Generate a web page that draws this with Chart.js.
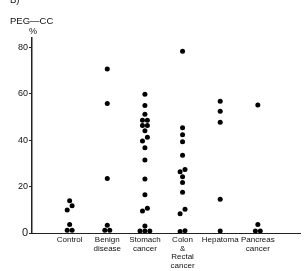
<!DOCTYPE html>
<html>
<head>
<meta charset="utf-8">
<script src="https://cdn.jsdelivr.net/npm/chart.js@4.4.1/dist/chart.umd.min.js"></script>
<style>
  html, body { margin: 0; padding: 0; background: #fff; }
  #wrap { width: 306px; height: 271px; position: relative; }
</style>
</head>
<body>
<div id="wrap"><canvas id="pegChart"></canvas></div>
<script>
// categories (x axis)
const categories = [
    ['Control'],
    ['Benign', 'disease'],
    ['Stomach', 'cancer'],
    ['Colon', '&', 'Rectal', 'cancer'],
    ['Hepatoma'],
    ['Pancreas', 'cancer']
];

// PEG-CC % per patient
const control   = [13.9, 11.7, 9.9, 3.7, 1.2, 1.2];
const benign    = [70.7, 55.8, 23.5, 3.3, 1.2, 1.2];
const stomach   = [59.8, 54.9, 51.2, 48.6, 48.6, 46.3, 46.3, 44.0, 41.3, 39.6, 36.7,
                   31.5, 23.3, 16.5, 10.7, 9.5, 3.0, 0.9, 0.9, 0.9];
const colon     = [78.3, 45.3, 42.3, 39.3, 33.5, 27.4, 26.4, 24.2, 21.8, 17.6, 10.2, 8.3, 1.0, 0.6];
const hepatoma  = [56.8, 52.5, 47.7, 14.5, 0.9];
const pancreas  = [55.1, 3.7, 0.9, 0.9];

const groups = [control, benign, stomach, colon, hepatoma, pancreas];
const yTicks = [0, 20, 40, 60, 80];

const FONT = '"Liberation Sans", Arial, Helvetica, sans-serif';

// spread dots with close values side by side (dot plot layout)
function spread(values, center) {
    const sorted = values.slice().sort((a, b) => a - b);
    const clusters = [];
    sorted.forEach(v => {
        const last = clusters[clusters.length - 1];
        if (last && v - last[last.length - 1] < 2.0) last.push(v);
        else clusters.push([v]);
    });
    const pts = [];
    const step = 0.13;
    clusters.forEach(c => {
        c.forEach((v, k) => {
            pts.push({ x: center + (k - (c.length - 1) / 2) * step, y: v });
        });
    });
    return pts;
}

const points = [];
groups.forEach((g, i) => spread(g, i + 1).forEach(p => points.push(p)));

// heading text in the top left corner
const headingPlugin = {
    id: 'heading',
    afterDraw(chart) {
        const ctx = chart.ctx;
        ctx.save();
        ctx.fillStyle = '#111';
        ctx.textBaseline = 'alphabetic';
        ctx.textAlign = 'left';
        ctx.font = '9.5px ' + FONT;
        ctx.fillText('B)', 10, 3);
        ctx.fillText('PEG\u2014CC', 10, 24);
        ctx.font = '9px ' + FONT;
        ctx.fillText('%', 29, 34);
        ctx.restore();
    }
};

new Chart(document.getElementById('pegChart'), {
    type: 'scatter',
    data: {
        datasets: [{
            data: points,
            backgroundColor: '#000',
            borderWidth: 0,
            pointRadius: 2.5,
            pointHoverRadius: 2.5
        }]
    },
    options: {
        responsive: true,
        maintainAspectRatio: false,
        animation: false,
        layout: { padding: { top: 38, right: 6, left: 0, bottom: 0 } },
        plugins: {
            legend: { display: false },
            tooltip: { enabled: false }
        },
        scales: {
            x: {
                type: 'linear',
                min: 0,
                max: 7.12,
                afterFit: scale => { scale.height = 38; },
                afterBuildTicks: scale => {
                    scale.ticks = categories.map((c, i) => ({ value: i + 1 }));
                },
                grid: { display: false, drawTicks: false },
                border: { display: true, color: '#222', width: 1 },
                ticks: {
                    autoSkip: false,
                    maxRotation: 0,
                    padding: 3,
                    color: '#111',
                    font: { family: FONT, size: 8, lineHeight: 1.05 },
                    callback: v => categories[v - 1]
                }
            },
            y: {
                min: 0,
                max: 84,
                afterFit: scale => { scale.width = 32; },
                afterBuildTicks: scale => {
                    scale.ticks = yTicks.map(v => ({ value: v }));
                },
                grid: { display: true, drawOnChartArea: false, tickLength: 3, color: '#222', lineWidth: 1 },
                border: { display: true, color: '#222', width: 1.5 },
                ticks: {
                    padding: 1,
                    color: '#111',
                    font: ctx => ({ family: FONT, size: ctx.tick && ctx.tick.value === 0 ? 11 : 9 })
                }
            }
        }
    },
    plugins: [headingPlugin]
});
</script>
</body>
</html>
